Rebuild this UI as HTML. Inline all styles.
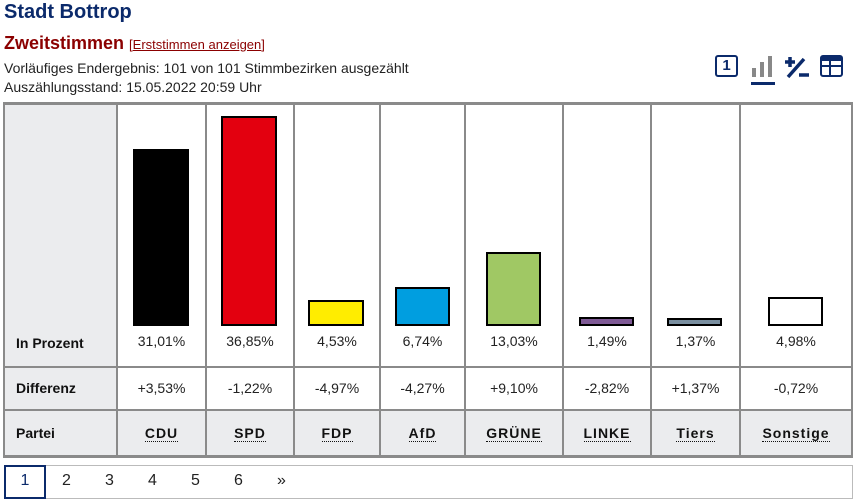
<!DOCTYPE html>
<html><head><meta charset="utf-8"><style>
*{margin:0;padding:0;box-sizing:border-box}
body{width:858px;height:502px;background:#fff;font-family:"Liberation Sans",Arial,sans-serif;position:relative;overflow:hidden;color:#222}
.a{position:absolute}
.t{font-size:14px;white-space:nowrap}
.c{text-align:center}
.bar{position:absolute;border:2px solid #000;bottom:176px}
.vl{position:absolute;background:#8a8a8a;width:2px}
.hl{position:absolute;background:#8a8a8a;height:2px}
.pl{font-weight:bold;font-size:14px;letter-spacing:1px;color:#111;border-bottom:1px dotted #111;line-height:16px}
</style></head><body>
<div class="a" style="left:4px;top:1px;font-size:20px;font-weight:bold;color:#0b2a6b">Stadt Bottrop</div>
<div class="a" style="left:4px;top:33px;font-size:18px;font-weight:bold;color:#8b0000">Zweitstimmen <span style="font-size:13px;font-weight:normal;color:#8b0000">[<u>Erststimmen anzeigen</u>]</span></div>
<div class="a t" style="left:4px;top:60px">Vorläufiges Endergebnis: 101 von 101 Stimmbezirken ausgezählt</div>
<div class="a t" style="left:4px;top:79px">Auszählungsstand: 15.05.2022 20:59 Uhr</div>
<!-- icons -->
<div class="a" style="left:715px;top:55px;width:23px;height:22px;border:2px solid #0b2a6b;border-radius:3px;font-weight:bold;font-size:15px;color:#0b2a6b;text-align:center;line-height:18px">1</div>
<div class="a" style="left:752px;top:68px;width:4px;height:9px;background:#888"></div>
<div class="a" style="left:760px;top:62px;width:4px;height:15px;background:#888"></div>
<div class="a" style="left:768px;top:56px;width:4px;height:21px;background:#888"></div>
<div class="a" style="left:751px;top:82px;width:24px;height:3px;background:#0b2a6b"></div>
<svg class="a" style="left:784px;top:54px" width="26" height="26" viewBox="0 0 26 26">
<path d="M1 8h10M6 3v10M4 23L20 5M15 21h10" stroke="#0b2a6b" stroke-width="3.5" fill="none"/></svg>
<div class="a" style="left:820px;top:55px;width:23px;height:22px;border:2px solid #0b2a6b;border-radius:3px;border-top-width:6px"></div>
<div class="a" style="left:822px;top:65px;width:19px;height:2px;background:#0b2a6b"></div>
<div class="a" style="left:829px;top:60px;width:2px;height:15px;background:#0b2a6b"></div>
<!-- table backgrounds -->
<div class="a" style="left:4px;top:104px;width:112px;height:352px;background:#ebecee"></div>
<div class="a" style="left:4px;top:410px;width:848px;height:46px;background:#ebecee"></div>
<!-- grid lines -->
<div class="hl" style="left:3px;top:102px;width:850px;height:3px"></div>
<div class="hl" style="left:3px;top:366px;width:850px"></div>
<div class="hl" style="left:3px;top:409px;width:850px"></div>
<div class="hl" style="left:3px;top:455px;width:850px;height:3px"></div>
<div class="vl" style="left:3px;top:102px;height:355px"></div>
<div class="vl" style="left:116px;top:102px;height:355px"></div>
<div class="vl" style="left:205px;top:102px;height:355px"></div>
<div class="vl" style="left:293px;top:102px;height:355px"></div>
<div class="vl" style="left:379px;top:102px;height:355px"></div>
<div class="vl" style="left:464px;top:102px;height:355px"></div>
<div class="vl" style="left:562px;top:102px;height:355px"></div>
<div class="vl" style="left:650px;top:102px;height:355px"></div>
<div class="vl" style="left:739px;top:102px;height:355px"></div>
<div class="vl" style="left:851px;top:102px;height:355px"></div>
<!-- bars -->
<div class="bar" style="left:133px;top:149px;width:56px;background:#000"></div>
<div class="bar" style="left:221px;top:116px;width:56px;background:#e3000f"></div>
<div class="bar" style="left:308px;top:300px;width:56px;background:#ffed00"></div>
<div class="bar" style="left:395px;top:287px;width:55px;background:#009ee0"></div>
<div class="bar" style="left:486px;top:252px;width:55px;background:#a0c864"></div>
<div class="bar" style="left:579px;top:317px;width:55px;background:#7f5a96"></div>
<div class="bar" style="left:667px;top:318px;width:55px;background:#7a8fa0"></div>
<div class="bar" style="left:768px;top:297px;width:55px;background:#fff"></div>
<!-- labels -->
<div class="a t" style="left:16px;top:335px;font-weight:bold;color:#111">In Prozent</div>
<div class="a t" style="left:16px;top:380px;font-weight:bold;color:#111">Differenz</div>
<div class="a t" style="left:16px;top:425px;font-weight:bold;color:#111">Partei</div>
<div class="a t c" style="left:118px;width:87px;top:333px">31,01%</div>
<div class="a t c" style="left:207px;width:86px;top:333px">36,85%</div>
<div class="a t c" style="left:295px;width:84px;top:333px">4,53%</div>
<div class="a t c" style="left:381px;width:83px;top:333px">6,74%</div>
<div class="a t c" style="left:466px;width:96px;top:333px">13,03%</div>
<div class="a t c" style="left:564px;width:86px;top:333px">1,49%</div>
<div class="a t c" style="left:652px;width:87px;top:333px">1,37%</div>
<div class="a t c" style="left:741px;width:110px;top:333px">4,98%</div>
<div class="a t c" style="left:118px;width:87px;top:380px">+3,53%</div>
<div class="a t c" style="left:207px;width:86px;top:380px">-1,22%</div>
<div class="a t c" style="left:295px;width:84px;top:380px">-4,97%</div>
<div class="a t c" style="left:381px;width:83px;top:380px">-4,27%</div>
<div class="a t c" style="left:466px;width:96px;top:380px">+9,10%</div>
<div class="a t c" style="left:564px;width:86px;top:380px">-2,82%</div>
<div class="a t c" style="left:652px;width:87px;top:380px">+1,37%</div>
<div class="a t c" style="left:741px;width:110px;top:380px">-0,72%</div>
<div class="a c" style="left:118px;width:87px;top:425px"><span class="pl">CDU</span></div>
<div class="a c" style="left:207px;width:86px;top:425px"><span class="pl">SPD</span></div>
<div class="a c" style="left:295px;width:84px;top:425px"><span class="pl">FDP</span></div>
<div class="a c" style="left:381px;width:83px;top:425px"><span class="pl">AfD</span></div>
<div class="a c" style="left:466px;width:96px;top:425px"><span class="pl">GRÜNE</span></div>
<div class="a c" style="left:564px;width:86px;top:425px"><span class="pl">LINKE</span></div>
<div class="a c" style="left:652px;width:87px;top:425px"><span class="pl">Tiers</span></div>
<div class="a c" style="left:741px;width:110px;top:425px"><span class="pl">Sonstige</span></div>
<!-- pagination -->
<div class="a" style="left:4px;top:465px;width:849px;height:34px;border:1px solid #bbb"></div>
<div class="a" style="left:4px;top:465px;width:42px;height:34px;border:2px solid #0b2a6b;background:#fff"></div>
<div class="a" style="left:4px;top:472px;width:42px;text-align:center;font-size:16px;color:#0b2a6b">1</div>
<div class="a" style="left:62px;top:472px;font-size:16px">2</div>
<div class="a" style="left:105px;top:472px;font-size:16px">3</div>
<div class="a" style="left:148px;top:472px;font-size:16px">4</div>
<div class="a" style="left:191px;top:472px;font-size:16px">5</div>
<div class="a" style="left:234px;top:472px;font-size:16px">6</div>
<div class="a" style="left:277px;top:472px;font-size:16px">»</div>
</body></html>
